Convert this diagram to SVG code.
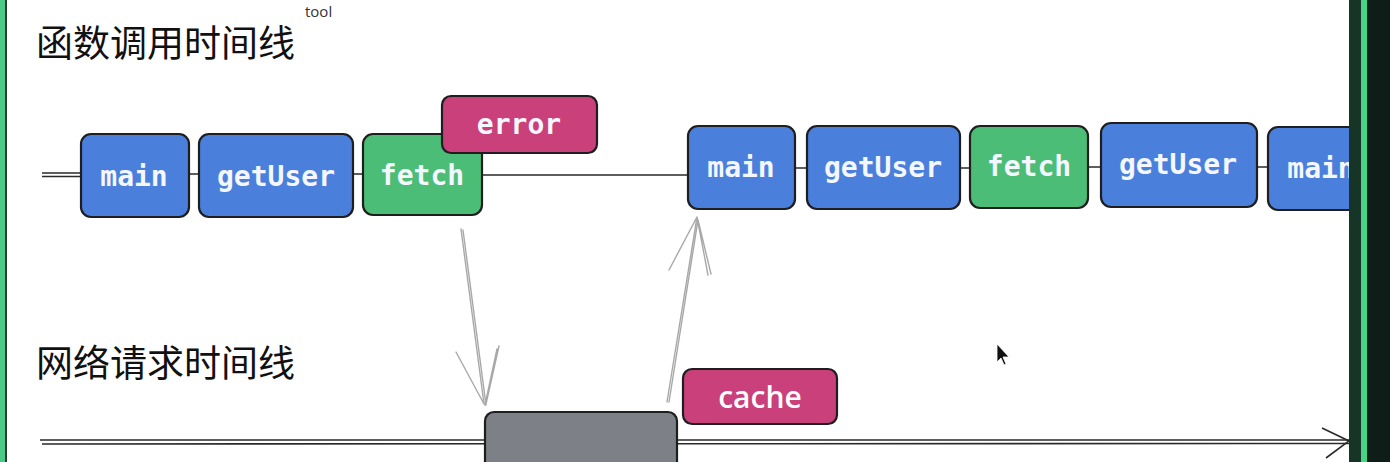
<svg xmlns="http://www.w3.org/2000/svg" width="1390" height="462" viewBox="0 0 1390 462">
<style>
.title{font-family:"Noto Sans CJK SC","Noto Sans",sans-serif;font-size:37px;fill:#111111}
.box{stroke:#1e1e1e;stroke-width:2.2}
.blue{fill:#4a7fdb}
.green{fill:#4cbd76}
.pink{fill:#c9407a}
.gray{fill:#7d8187}
.lbl{font-family:"DejaVu Sans Mono","Liberation Mono",monospace;font-size:28px;font-weight:bold;fill:#f4f7ff;text-anchor:middle;dominant-baseline:central}
.sans{font-family:"Open Sans","Noto Sans",sans-serif;font-size:30px;font-weight:600;fill:#ffffff;text-anchor:middle;dominant-baseline:central}
.tl{stroke:#2a2a2a;stroke-width:1.6;fill:none}
.arr{stroke:#a8a8a8;stroke-width:1.4;fill:none;stroke-linecap:round}
</style>
<rect x="0" y="0" width="1390" height="462" fill="#ffffff"/>
<rect x="0" y="0" width="5" height="462" fill="#4cc987"/>
<rect x="5" y="0" width="2" height="462" fill="#2d3b33"/>

<text class="title" x="36" y="57">函数调用时间线</text>
<text x="305" y="17" font-family="Open Sans, sans-serif" font-size="15" fill="#333">tool</text>
<text class="title" x="36" y="377">网络请求时间线</text>

<g id="connectors">
  <path class="tl" d="M42 173 L82 173 M42 176.5 L82 176.5"/>
  <path class="tl" d="M188 174 L200 174 M352 174 L363 174 M482 175 L688 175"/>
  <path class="tl" d="M794 168 L807 168 M959 168 L970 168 M1088 167 L1101 167 M1256 167 L1268 167"/>
  <path class="tl" d="M40 440 L1349 440 M42 444 L1349 443.5"/>
  <path class="tl" d="M1322 428 L1349 441 L1326 458"/>
  <path class="arr" d="M461 229 L484 404 M463 230 L486 405 M484 404 L456 352 M485 405 L497 349 M486 404 L499 346"/>
  <path class="arr" d="M667 402 L697 217 M669 402 L698 220 M697 217 L669 270 M697 217 L708 275 M698 220 L711 274"/>
</g>

<g id="main1"><rect class="box blue" x="81" y="134" width="108" height="83" rx="10"/><text class="lbl" x="134" y="176">main</text></g>
<g id="getUser1"><rect class="box blue" x="199" y="134" width="154" height="83" rx="10"/><text class="lbl" x="276" y="176">getUser</text></g>
<g id="fetch1"><rect class="box green" x="363" y="134" width="119" height="81" rx="10"/><text class="lbl" x="422" y="175">fetch</text></g>
<g id="error"><rect class="box pink" x="442" y="96" width="155" height="57" rx="9"/><text class="lbl" x="519" y="124">error</text></g>

<g id="main2"><rect class="box blue" x="688" y="126" width="107" height="83" rx="10"/><text class="lbl" x="741" y="167">main</text></g>
<g id="getUser2"><rect class="box blue" x="807" y="126" width="153" height="83" rx="10"/><text class="lbl" x="883" y="167">getUser</text></g>
<g id="fetch2"><rect class="box green" x="970" y="126" width="118" height="82" rx="10"/><text class="lbl" x="1029" y="166">fetch</text></g>
<g id="getUser3"><rect class="box blue" x="1101" y="123" width="156" height="84" rx="10"/><text class="lbl" x="1178" y="164">getUser</text></g>
<g id="main3"><rect class="box blue" x="1268" y="127" width="110" height="83" rx="10"/><text class="lbl" x="1321" y="168">main</text></g>

<g id="network"><rect class="box gray" x="485" y="412" width="192" height="70" rx="9"/></g>
<g id="cache"><rect class="box pink" x="683" y="369" width="154" height="55" rx="9"/><text class="sans" x="760" y="396">cache</text></g>

<path d="M997 344 L997 362 L1001 358 L1004 365 L1006 364 L1003 357 L1009 357 Z" fill="#111" stroke="#fff" stroke-width="0.8"/>

<rect x="1349" y="0" width="41" height="462" fill="#163526"/>
<rect x="1361" y="0" width="6" height="462" fill="#46d486"/>
<rect x="1367" y="0" width="23" height="462" fill="#0e1d17"/>
</svg>
